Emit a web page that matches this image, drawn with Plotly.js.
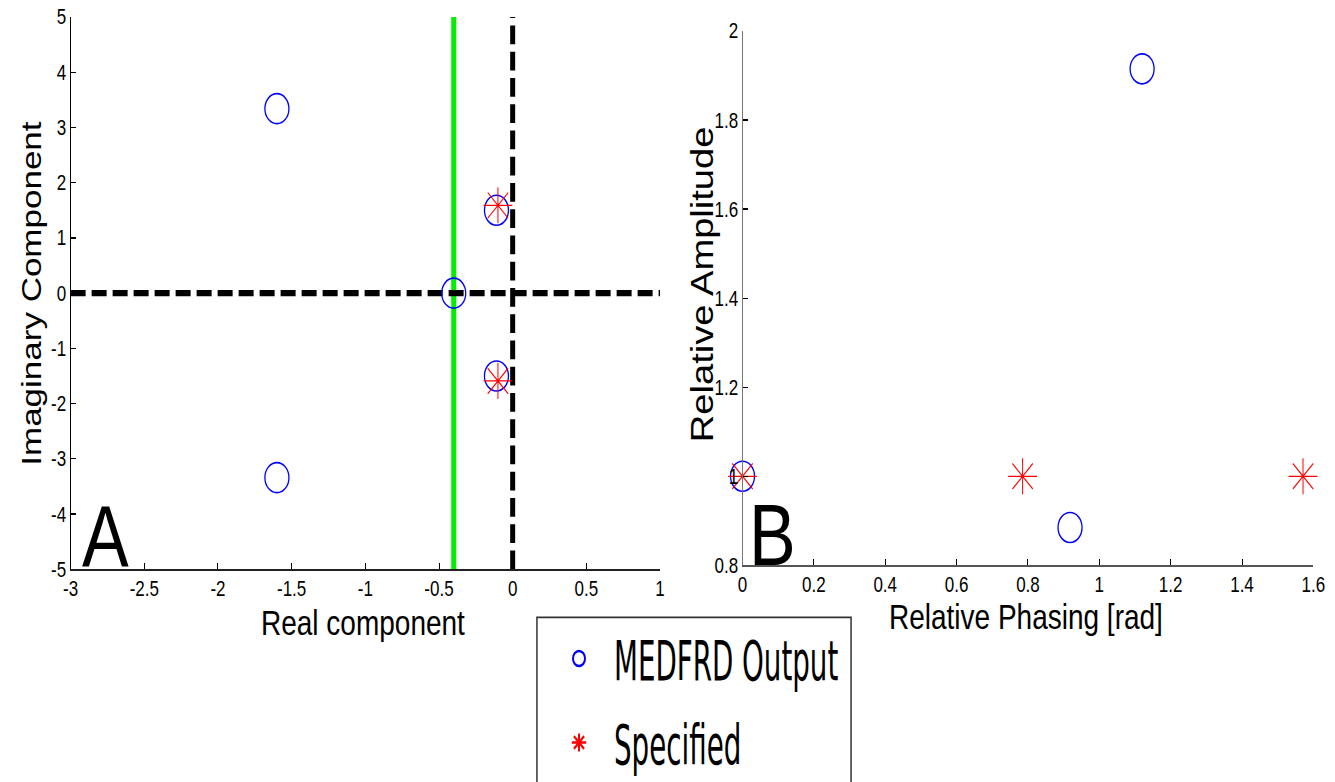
<!DOCTYPE html>
<html>
<head>
<meta charset="utf-8">
<script src="https://cdn.plot.ly/plotly-3.0.1.min.js"></script>
<style>
  html, body { margin: 0; padding: 0; background: #fff; overflow: hidden; }
  #wrap { width: 1335px; height: 782px; overflow: hidden; }
  /* the figure is laid out at 1335x625.6 and stretched vertically to fill the page */
  #chart { width: 1335px; height: 625.6px; transform: scaleY(1.25); transform-origin: 0 0; }
  /* narrow, tall lettering for the legend entries */
  #chart .legendtext { transform-box: fill-box; transform-origin: 0% 50%; transform: scaleX(0.7); }
</style>
</head>
<body>
<div id="wrap"><div id="chart"></div></div>
<script>
// Panel A: pole locations in the complex plane
const poleRe      = [-1.6, -1.6, -0.4, -0.11, -0.11];   // MEDFRD output, real part
const poleIm      = [3.34, -3.34, 0, 1.5, -1.5];        // MEDFRD output, imaginary part
const specRe      = [-0.1, -0.1];                       // specified, real part
const specIm      = [1.59, -1.59];                      // specified, imaginary part
const stabilityRe = -0.4;                               // green reference line
const aRangeX     = [-3, 1];
const aRangeY     = [-5, 5];
const aTicksX     = [-3, -2.5, -2, -1.5, -1, -0.5, 0, 0.5, 1];
const aTickTextX  = ['-3', '-2.5', '-2', '-1.5', '-1', '-0.5', '0', '0.5', '1'];
const aTicksY     = [-5, -4, -3, -2, -1, 0, 1, 2, 3, 4, 5];
const aTickTextY  = ['-5', '-4', '-3', '-2', '-1', '0', '1', '2', '3', '4', '5'];

// Panel B: relative amplitude vs relative phasing
const outPhase   = [0, 0.918, 1.12];
const outAmp     = [1, 0.885, 1.915];
const specPhase  = [0, 0.785, 1.571];
const specAmp    = [1, 1, 1];
const bRangeX    = [0, 1.6];
const bRangeY    = [0.8, 2];
const bTicksX    = [0, 0.2, 0.4, 0.6, 0.8, 1, 1.2, 1.4, 1.6];
const bTickTextX = ['0', '0.2', '0.4', '0.6', '0.8', '1', '1.2', '1.4', '1.6'];
const bTicksY    = [0.8, 1, 1.2, 1.4, 1.6, 1.8, 2];
const bTickTextY = ['0.8', '1', '1.2', '1.4', '1.6', '1.8', '2'];

const seriesNames = ['MEDFRD Output', 'Specified'];
const axisTitles  = ['Real component', 'Imaginary Component', 'Relative Phasing [rad]', 'Relative Amplitude'];
const panelLabels = ['A', 'B'];

const sans = 'Liberation Sans, Arial, sans-serif';
const BLUE = '#0000ff', RED = '#ff0000';

const circleMarker = {symbol: 'circle-open', size: 24, color: BLUE, line: {color: BLUE, width: 1.3}};
const starMarker   = {symbol: 'asterisk-open', size: 24, color: RED, line: {color: RED, width: 1}};

const traces = [
  // reference lines in panel A
  {x: [stabilityRe, stabilityRe], y: aRangeY, mode: 'lines', xaxis: 'x', yaxis: 'y',
   line: {color: '#00f000', width: 5}, showlegend: false, hoverinfo: 'skip'},
  {x: aRangeX, y: [0, 0], mode: 'lines', xaxis: 'x', yaxis: 'y',
   line: {color: '#000', width: 5, dash: '15px,6px'}, showlegend: false, hoverinfo: 'skip'},
  {x: [0, 0], y: aRangeY, mode: 'lines', xaxis: 'x', yaxis: 'y',
   line: {color: '#000', width: 5, dash: '15px,6px'}, showlegend: false, hoverinfo: 'skip'},
  // panel A markers
  {x: poleRe, y: poleIm, mode: 'markers', xaxis: 'x', yaxis: 'y', name: seriesNames[0],
   legendgroup: 'out', marker: circleMarker, cliponaxis: false},
  {x: specRe, y: specIm, mode: 'markers', xaxis: 'x', yaxis: 'y', name: seriesNames[1],
   legendgroup: 'spec', marker: starMarker, cliponaxis: false},
  // panel B markers
  {x: outPhase, y: outAmp, mode: 'markers', xaxis: 'x2', yaxis: 'y2', name: seriesNames[0],
   legendgroup: 'out', showlegend: false, marker: circleMarker, cliponaxis: false},
  {x: specPhase, y: specAmp, mode: 'markers', xaxis: 'x2', yaxis: 'y2', name: seriesNames[1],
   legendgroup: 'spec', showlegend: false, marker: starMarker, cliponaxis: false}
];

function axisStyle(extra, lineColor) {
  return Object.assign({
    showgrid: false, zeroline: false, showline: true, linecolor: lineColor, linewidth: 1,
    ticks: 'inside', ticklen: 5, tickwidth: 1, tickcolor: '#000', fixedrange: true,
    tickmode: 'array', tickfont: {family: sans, size: 17, color: '#000'}
  }, extra);
}

const titleFont  = {family: sans, size: 28, color: '#000'};
const titleFontB = {family: sans, size: 30.5, color: '#000'};
const labelFont  = {family: sans, size: 70, color: '#000'};

function note(text, x, y, font, angle) {
  return {text: text, xref: 'paper', yref: 'paper', x: x, y: y, xanchor: 'center', yanchor: 'middle',
          showarrow: false, font: font, textangle: angle || 0};
}

const layout = {
  width: 1335, height: 625.6,
  margin: {l: 0, r: 0, t: 0, b: 0, autoexpand: false},
  paper_bgcolor: '#fff', plot_bgcolor: 'rgba(0,0,0,0)',
  showlegend: true,
  xaxis:  axisStyle({domain: [0.0529, 0.4944], range: aRangeX, tickvals: aTicksX, ticktext: aTickTextX, anchor: 'y'}, '#222'),
  yaxis:  axisStyle({domain: [0.2724, 0.9783], range: aRangeY, tickvals: aTicksY, ticktext: aTickTextY, anchor: 'x'}, '#000'),
  xaxis2: axisStyle({domain: [0.5562, 0.9838], range: bRangeX, tickvals: bTicksX, ticktext: bTickTextX, anchor: 'y2'}, '#555'),
  yaxis2: axisStyle({domain: [0.2775, 0.9604], range: bRangeY, tickvals: bTicksY, ticktext: bTickTextY, anchor: 'x2'}, '#777'),
  annotations: [
    note(axisTitles[0], 0.272, 0.2033, titleFont),
    note(axisTitles[1], 0.024, 0.6253, titleFont, -90),
    note(axisTitles[2], 0.7686, 0.211, titleFont),
    note(axisTitles[3], 0.5265, 0.6375, titleFontB, -90),
    note(panelLabels[0], 0.0787, 0.3133, labelFont),
    note(panelLabels[1], 0.5783, 0.3158, labelFont)
  ],
  // legend frame (runs off the bottom edge of the figure)
  shapes: [
    {type: 'rect', xref: 'paper', yref: 'paper', x0: 0.4022, x1: 0.6375, y0: -0.1, y1: 0.211,
     line: {color: '#333', width: 1.5}, fillcolor: '#fff', layer: 'above'}
  ],
  legend: {
    x: 0.4075, y: 0.2145, xanchor: 'left', yanchor: 'top',
    bgcolor: 'rgba(0,0,0,0)', borderwidth: 0,
    font: {family: 'DejaVu Sans Condensed, DejaVu Sans, sans-serif', size: 44, color: '#000'},
    itemwidth: 60, tracegroupgap: 7, traceorder: 'grouped', itemsizing: 'constant'
  }
};

Plotly.newPlot('chart', traces, layout, {displayModeBar: false, staticPlot: true});
</script>
</body>
</html>
